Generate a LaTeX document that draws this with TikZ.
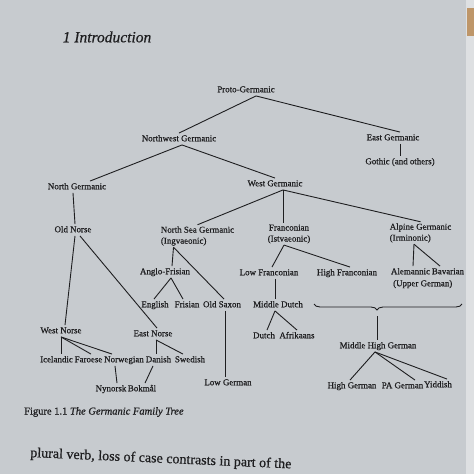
\documentclass[tikz,border=0pt]{standalone}
\usepackage{fontspec}
\setmainfont{Liberation Serif}
\newfontfamily\treefont{Liberation Serif}[RawFeature={embolden=0.6}]
\usetikzlibrary{decorations.pathreplacing}
\definecolor{paper}{RGB}{199,203,207}
\definecolor{edgepaper}{RGB}{222,224,226}
\definecolor{ink}{RGB}{30,30,32}
\definecolor{corner}{RGB}{190,150,105}
\tikzset{
  lang/.style={inner sep=1.5pt, text height=6.5pt, text depth=2pt, text=ink,
    font=\treefont\fontsize{8.9}{11}\selectfont},
  lang2/.style={lang, text height=, text depth=, align=left},
  link/.style={draw=ink, line width=0.9pt},
}
\begin{document}
\begin{tikzpicture}[x=1pt,y=-1pt]
\useasboundingbox (0,0) rectangle (474,474);
\fill[paper] (0,0) rectangle (474,474);
\fill[edgepaper] (466,0) rectangle (474,474);
\fill[corner] (467,8) rectangle (474,36);

\node[text=ink, font=\treefont\fontsize{15.5}{18}\selectfont\itshape] (title) at (107,37) {1 Introduction};

\node[lang] (proto) at (246,90) {Proto-Germanic};
\node[lang] (nwg) at (179,139) {Northwest Germanic};
\node[lang] (eg) at (393,138) {East Germanic};
\node[lang] (goth) at (400,162) {Gothic (and others)};
\node[lang] (ng) at (77,187) {North Germanic};
\node[lang] (wg) at (275,184) {West Germanic};
\node[lang] (on) at (73,230) {Old Norse};
\node[lang2] (nsg) at (197.5,236) {North Sea Germanic\\(Ingvaeonic)};
\node[lang2, align=center] (fr) at (289,234) {Franconian\\(Istvaeonic)};
\node[lang2] (alp) at (420.5,233) {Alpine Germanic\\(Irminonic)};
\node[lang] (af) at (165,272) {Anglo-Frisian};
\node[lang] (eng) at (155,305) {English};
\node[lang] (fris) at (187,305) {Frisian};
\node[lang] (os) at (222,305) {Old Saxon};
\node[lang] (lowf) at (269,273) {Low Franconian};
\node[lang] (highf) at (347,273) {High Franconian};
\node[lang] (alem) at (410.5,272) {Alemannic};
\node[lang] (bav) at (448,272) {Bavarian};
\node[lang, anchor=west] (upper) at (391.5,284) {(Upper German)};
\node[lang] (md) at (278,305) {Middle Dutch};
\node[lang] (dutch) at (264,336) {Dutch};
\node[lang] (afr) at (297,336) {Afrikaans};
\node[lang] (wn) at (61,331) {West Norse};
\node[lang] (en) at (153,334) {East Norse};
\node[lang] (ice) at (56.5,360) {Icelandic};
\node[lang] (far) at (88.5,360) {Faroese};
\node[lang] (nor) at (124,360) {Norwegian};
\node[lang] (dan) at (158.5,360) {Danish};
\node[lang] (swe) at (190,360) {Swedish};
\node[lang] (nyn) at (111,389) {Nynorsk};
\node[lang] (bok) at (142,389) {Bokmål};
\node[lang] (lg) at (228,383) {Low German};
\node[lang] (mhg) at (378,346) {Middle High German};
\node[lang] (hg) at (352,386) {High German};
\node[lang] (pa) at (402.5,386) {PA German};
\node[lang] (yid) at (438,385) {Yiddish};

\node[anchor=west, text=ink, font=\treefont\fontsize{10.5}{12}\selectfont, inner sep=0pt] (cap) at (24,412)
  {Figure 1.1 \textit{The Germanic Family Tree}};
\node[anchor=base west, text=ink, font=\treefont\fontsize{14}{16}\selectfont, inner sep=0pt, rotate=-2.5] (body) at (30,457)
  {plural verb, loss of case contrasts in part of the};

% connectors
\draw[link] ([xshift=10pt]proto.south) -- (nwg.north);
\draw[link] ([xshift=10pt]proto.south) -- ([xshift=7pt]eg.north);
\draw[link] ([xshift=7pt]eg.south) -- (goth.north);
\draw[link] ([xshift=3pt]nwg.south) -- ([xshift=13pt]ng.north);
\draw[link] ([xshift=3pt]nwg.south) -- (wg.north);
\draw[link] ([xshift=8pt]wg.south) -- (nsg.north);
\draw[link] ([xshift=8pt]wg.south) -- ([xshift=-6pt]fr.north);
\draw[link] ([xshift=8pt]wg.south) -- (alp.north);
\draw[link] ([xshift=-4pt]ng.south) -- ([xshift=2pt]on.north);
\draw[link] ([xshift=2pt]on.south) -- ([xshift=4pt]wn.north);
\draw[link] ([xshift=7pt]on.south) -- ([xshift=4pt]en.north);
\draw[link] ([xshift=-24pt]nsg.south) -- ([xshift=7pt]af.north);
\draw[link] ([xshift=-24pt]nsg.south) -- ([xshift=2pt]os.north);
\draw[link] ([xshift=6pt]af.south) -- ([xshift=-1pt]eng.north);
\draw[link] ([xshift=6pt]af.south) -- ([xshift=-4pt]fris.north);
\draw[link] ([xshift=3pt]os.south) -- ([xshift=-3pt]lg.north);
\draw[link] ([xshift=-5pt]fr.south) -- ([xshift=3pt]lowf.north);
\draw[link] ([xshift=-5pt]fr.south) -- ([xshift=3pt]highf.north);
\draw[link] ([xshift=-6.5pt]alp.south) -- ([xshift=2.5pt]alem.north);
\draw[link] ([xshift=-6.5pt]alp.south) -- ([xshift=-8pt]bav.north);
\draw[link] ([xshift=6pt]lowf.south) -- ([xshift=-3pt]md.north);
\draw[link] ([xshift=-3pt]md.south) -- ([xshift=3pt]dutch.north);
\draw[link] ([xshift=-3pt]md.south) -- (afr.north);
\draw[link] (wn.south) -- ([xshift=4.5pt]ice.north);
\draw[link] (wn.south) -- ([xshift=2.5pt]far.north);
\draw[link] (wn.south) -- ([xshift=-12pt]nor.north);
\draw[link] ([xshift=3pt]en.south) -- ([xshift=-2.5pt]dan.north);
\draw[link] ([xshift=3pt]en.south) -- ([xshift=-7pt]swe.north);
\draw[link] ([xshift=-9pt]nor.south) -- ([xshift=6pt]nyn.north);
\draw[link] ([xshift=-5.5pt]dan.south) -- ([xshift=3pt]bok.north);

\coordinate (bl) at (314,304);
\coordinate (br) at (462,304);
\coordinate (bt) at (377,316);
\draw[link, decorate, decoration={brace, mirror, amplitude=6pt, aspect=0.426}] (bl) -- (br);
\draw[link] (bt) -- ([xshift=-1pt]mhg.north);
\draw[link] ([xshift=-3pt]mhg.south) -- ([xshift=-2pt]hg.north);
\draw[link] ([xshift=-3pt]mhg.south) -- ([xshift=12.5pt]pa.north);
\draw[link] ([xshift=-3pt]mhg.south) -- ([xshift=9pt]yid.north);
\end{tikzpicture}
\end{document}
